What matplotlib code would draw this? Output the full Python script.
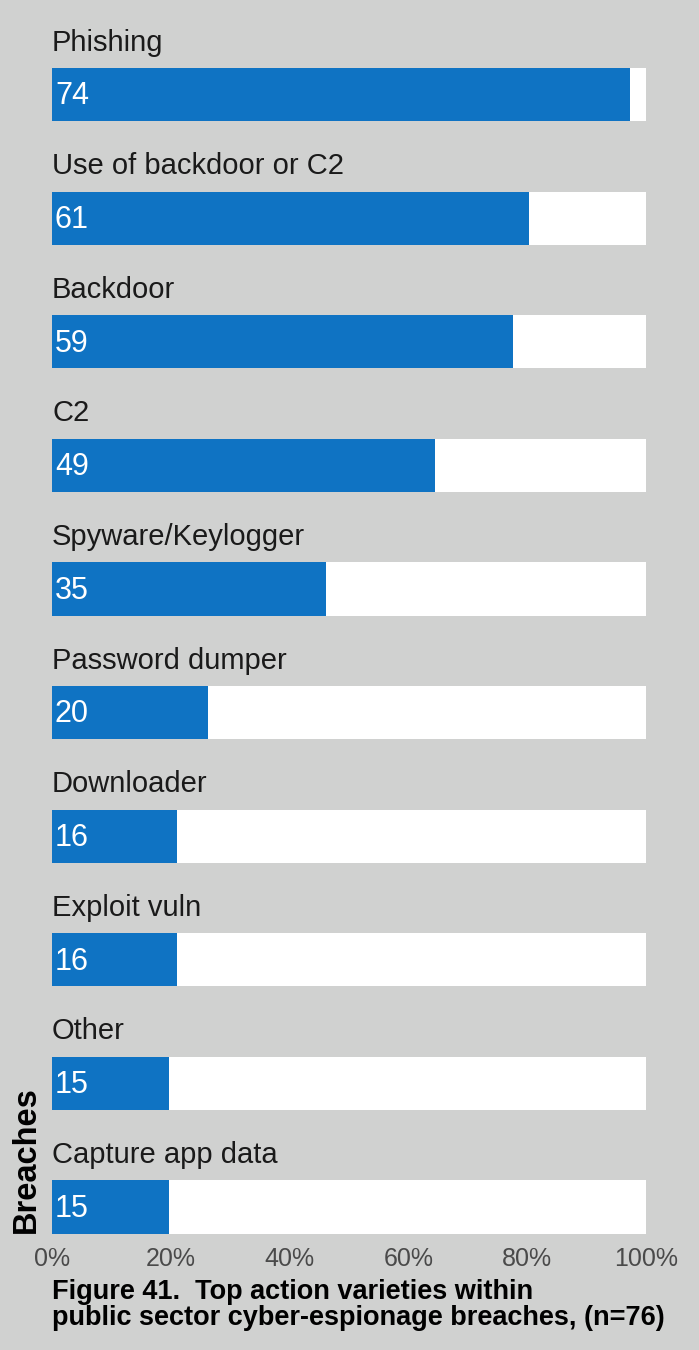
import matplotlib
matplotlib.use("Agg")
import matplotlib.pyplot as plt
from matplotlib.ticker import PercentFormatter

categories = ["Phishing", "Use of backdoor or C2", "Backdoor", "C2", "Spyware/Keylogger",
              "Password dumper", "Downloader", "Exploit vuln", "Other", "Capture app data"]
counts = [74, 61, 59, 49, 35, 20, 16, 16, 15, 15]
n_total = 76
ticks = [0, 0.2, 0.4, 0.6, 0.8, 1.0]

BG = "#d0d1d0"
BLUE = "#0f73c3"
plt.rcParams['font.family'] = ['Liberation Sans', 'DejaVu Sans']

fig = plt.figure(figsize=(6.99, 13.5), dpi=100, facecolor=BG)
W, H = 699, 1350
ax_left, ax_right = 52 / W, 646 / W
ax_top_px, ax_bot_px = 0, 1236
ax = fig.add_axes([ax_left, 1 - ax_bot_px / H, ax_right - ax_left, (ax_bot_px - ax_top_px) / H])
ax.set_facecolor(BG)

pos = list(range(len(categories)))
bh = 0.43
ax.barh(pos, [1.0] * len(pos), height=bh, color="white", left=0)
ax.barh(pos, [c / n_total for c in counts], height=bh, color=BLUE)

for i, (cat, c) in enumerate(zip(categories, counts)):
    ax.text(0.005, i + 0.015, str(c), color="white", fontsize=22, va="center", ha="left")
    ax.text(0.0, i - 0.42, cat, color="#1a1a1a", fontsize=21, va="center", ha="left")

ax.set_xlim(0, 1)
ax.set_ylim(9.235, -0.765)
ax.set_yticks([])
ax.set_xticks(ticks)
ax.xaxis.set_major_formatter(PercentFormatter(1.0, decimals=0))
ax.tick_params(axis="x", length=0, labelsize=18, labelcolor="#4a4a4a", pad=8)
for s in ax.spines.values():
    s.set_visible(False)

fig.text(26 / W, 1 - 1233 / H, "Breaches", rotation=90, fontsize=23.5, fontweight="bold",
         ha="center", va="bottom", color="black")
fig.text(52 / W, 1 - 1279 / H, "Figure 41.  Top action varieties within\npublic sector cyber-espionage breaches, (n=76)",
         fontsize=19.5, fontweight="bold", ha="left", va="top", color="black", linespacing=1.0)

fig.savefig("out.png", dpi=100, facecolor=BG)
